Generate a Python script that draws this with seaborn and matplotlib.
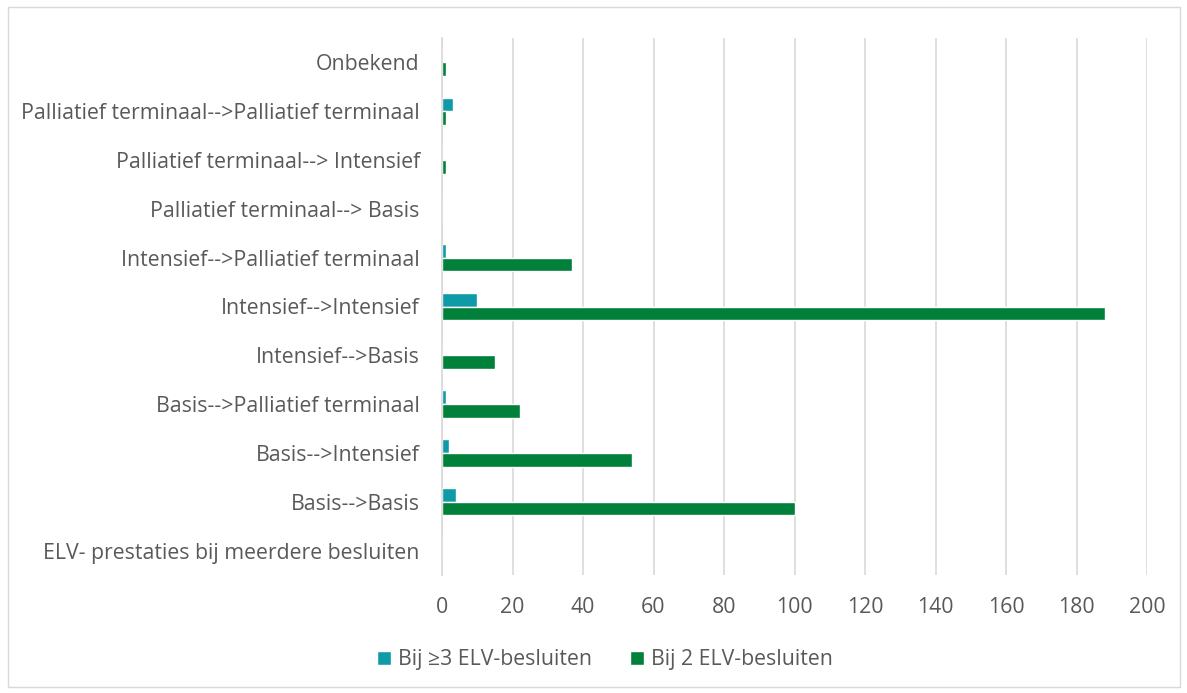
import matplotlib
matplotlib.use('Agg')
import matplotlib.pyplot as plt
import seaborn as sns
import pandas as pd
from matplotlib.patches import Rectangle

# categories top -> bottom
categories = [
    'Onbekend',
    'Palliatief terminaal-->Palliatief terminaal',
    'Palliatief terminaal--> Intensief',
    'Palliatief terminaal--> Basis',
    'Intensief-->Palliatief terminaal',
    'Intensief-->Intensief',
    'Intensief-->Basis',
    'Basis-->Palliatief terminaal',
    'Basis-->Intensief',
    'Basis-->Basis',
    'ELV- prestaties bij meerdere besluiten',
]
series = ['Bij ≥3 ELV-besluiten', 'Bij 2 ELV-besluiten']
vals_3plus = [0, 3, 0, 0, 1, 10, 0, 1, 2, 4, 0]
vals_2 = [1, 1, 1, 0, 37, 188, 15, 22, 54, 100, 0]
colors = ['#0E9AA7', '#00803A']
xticks = list(range(0, 201, 20))

df = pd.DataFrame({
    'cat': categories * 2,
    'serie': [series[0]] * len(categories) + [series[1]] * len(categories),
    'val': vals_3plus + vals_2,
})

sns.set_style('white')
plt.rcParams['font.family'] = ['Open Sans', 'DejaVu Sans']
txt = '#595959'
fs = 15.3

W, H = 1187, 693
fig = plt.figure(figsize=(W / 100, H / 100), dpi=100)
ax = fig.add_axes([442 / W, 1 - 575 / H, (1147 - 442) / W, (575 - 38) / H])

sns.barplot(data=df, x='val', y='cat', hue='serie', order=categories, hue_order=series,
            palette=colors, width=0.56, orient='h', ax=ax, saturation=1)

ax.set_xlim(0, 200)
ax.set_xticks(xticks)
ax.set_xlabel('')
ax.set_ylabel('')
ax.xaxis.grid(True, color='#D9D9D9', linewidth=1.2)
ax.set_axisbelow(True)
for s in ['top', 'right', 'bottom']:
    ax.spines[s].set_visible(False)
ax.spines['left'].set_color('#D9D9D9')
ax.spines['left'].set_linewidth(1.2)
ax.tick_params(axis='both', length=0, labelsize=fs, colors=txt)
ax.tick_params(axis='x', pad=16)
ax.tick_params(axis='y', pad=16)

ax.legend(loc='center', ncol=2, frameon=False, fontsize=fs, labelcolor=txt,
          handlelength=0.65, handleheight=0.65, columnspacing=1.8, handletextpad=0.33,
          bbox_to_anchor=(605 / W, 1 - 660 / H), bbox_transform=fig.transFigure)

fig.patches.append(Rectangle((8 / W, 6 / H), 1172 / W, 680 / H, transform=fig.transFigure,
                             fill=False, edgecolor='#D9D9D9', linewidth=1))

fig.savefig('out.png', dpi=100)
